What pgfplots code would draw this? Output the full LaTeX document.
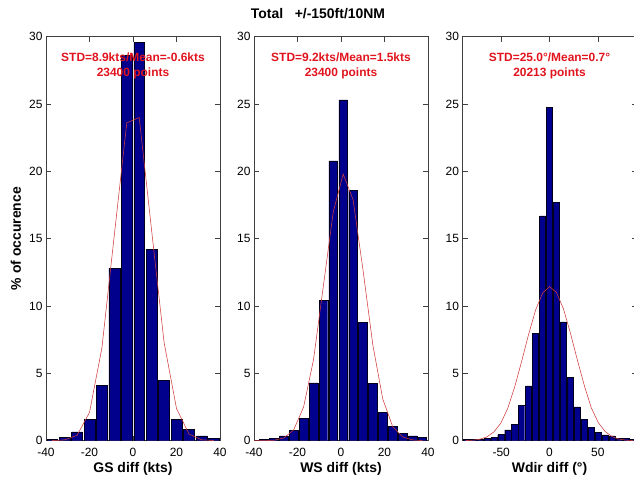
\documentclass[border=0pt]{standalone}
\usepackage{fontspec}
\setmainfont{Liberation Sans}
\usepackage{pgfplots}
\pgfplotsset{compat=1.18}

\definecolor{barblue}{RGB}{0,0,140}
\definecolor{fitred}{RGB}{210,60,60}
\definecolor{txtred}{RGB}{225,20,30}

\pgfplotsset{
  histpanel/.style={
    scale only axis, width=174bp, height=404bp,
    ymin=0, ymax=30, ytick={0,5,...,30},
    tick align=inside, major tick length=5bp,
    axis line style={black!75, line width=0.5bp},
    tick style={black!75, line width=0.5bp},
    ticklabel style={font=\fontsize{12}{12}\selectfont},
    xticklabel style={yshift=-4bp},
    /pgf/number format/assume math mode=true,
    xlabel style={font=\fontsize{14}{14}\selectfont\bfseries,
      at={(axis description cs:0.5,0)}, anchor=center, yshift=-28bp},
  },
  hbar/.style={ybar, bar width=#1, fill=barblue, draw=black!80!barblue, line width=0.4bp},
  fit/.style={fitred, line width=0.55bp, mark=none},
}
\tikzset{note/.style={font=\fontsize{12}{12}\selectfont\bfseries, text=txtred}}

\begin{document}
\begin{tikzpicture}

% ---- ground speed difference ----
\begin{axis}[histpanel, at={(46bp,40.3bp)}, anchor=south west,
  xmin=-40, xmax=40, xtick={-40,-20,0,20,40}, xlabel={GS diff (kts)}]
\addplot[hbar=5.0] coordinates {
  (-37.14,0.10) (-31.43,0.25) (-25.71,0.65) (-20.00,1.60) (-14.29,4.13)
  (-8.57,12.82) (-2.86,28.60) (2.86,29.60) (8.57,14.20) (14.29,4.48)
  (20.00,1.60) (25.71,0.85) (31.43,0.35) (37.14,0.15)};
\addplot[fit] coordinates {
  (-37.14,0.01) (-31.43,0.06) (-25.71,0.40) (-20.00,2.10) (-14.29,6.90)
  (-8.57,15.30) (-2.86,23.60) (2.86,24.00) (8.57,15.60) (14.29,7.30)
  (20.00,2.40) (25.71,0.50) (31.43,0.07) (37.14,0.01)};
\node[note] at (axis description cs:0.5,0.950) {STD=8.9kts/Mean=-0.6kts};
\node[note] at (axis description cs:0.5,0.910) {23400 points};
\end{axis}

% ---- wind speed difference ----
\begin{axis}[histpanel, at={(254bp,40.3bp)}, anchor=south west,
  xmin=-40, xmax=40, xtick={-40,-20,0,20,40}, xlabel={WS diff (kts)}]
\addplot[hbar=4.0] coordinates {
  (-39.95,0.05) (-35.40,0.10) (-30.85,0.20) (-26.30,0.35) (-21.75,0.75)
  (-17.20,1.65) (-12.65,4.30) (-8.10,10.40) (-3.55,20.77) (1.00,25.30)
  (5.55,18.60) (10.10,8.80) (14.65,4.26) (19.20,2.10) (23.75,1.05)
  (28.30,0.55) (32.85,0.35) (37.40,0.25)};
\addplot[fit] coordinates {
  (-39.95,0.00) (-35.40,0.00) (-30.85,0.03) (-26.30,0.20) (-21.75,0.80)
  (-17.20,2.50) (-12.65,6.00) (-8.10,11.50) (-3.55,17.00) (1.00,19.80)
  (5.55,17.90) (10.10,12.70) (14.65,7.10) (19.20,3.10) (23.75,1.05)
  (28.30,0.28) (32.85,0.06) (37.40,0.01)};
\node[note] at (axis description cs:0.5,0.950) {STD=9.2kts/Mean=1.5kts};
\node[note] at (axis description cs:0.5,0.910) {23400 points};
\end{axis}

% ---- wind direction difference ----
\begin{axis}[histpanel, at={(462.5bp,40.3bp)}, anchor=south west,
  xmin=-90, xmax=90, xtick={-50,0,50}, xlabel={Wdir diff (°)}]
\addplot[hbar=6.3] coordinates {
  (-86.4,0.08) (-79.2,0.10) (-72.0,0.12) (-64.8,0.20) (-57.6,0.25)
  (-50.4,0.45) (-43.2,0.80) (-36.0,1.24) (-28.8,2.65) (-21.6,4.08)
  (-14.4,7.97) (-7.2,16.70) (0.0,24.75) (7.2,17.70) (14.4,8.83)
  (21.6,4.70) (28.8,2.52) (36.0,1.59) (43.2,1.00) (50.4,0.62)
  (57.6,0.43) (64.8,0.35) (72.0,0.20) (79.2,0.15) (86.4,0.10)};
\addplot[fit] coordinates {
  (-86.4,0.01) (-79.2,0.04) (-72.0,0.11) (-64.8,0.28) (-57.6,0.65)
  (-50.4,1.30) (-43.2,2.40) (-36.0,4.00) (-28.8,5.90) (-21.6,7.90)
  (-14.4,9.70) (-7.2,10.95) (0.0,11.45) (7.2,11.00) (14.4,9.80)
  (21.6,8.00) (28.8,6.00) (36.0,4.10) (43.2,2.45) (50.4,1.35)
  (57.6,0.68) (64.8,0.30) (72.0,0.12) (79.2,0.04) (86.4,0.01)};
\node[note] at (axis description cs:0.5,0.950) {STD=25.0°/Mean=0.7°};
\node[note] at (axis description cs:0.5,0.910) {20213 points};
\end{axis}

\node[font=\fontsize{14}{14}\selectfont\bfseries] at (318bp,467bp)
  {Total\ \ \ +/-150ft/10NM};
\node[rotate=90, font=\fontsize{14}{14}\selectfont\bfseries] at (16bp,242.3bp)
  {\% of occurence};

\pgfresetboundingbox
\path[use as bounding box] (0,0) rectangle (634bp,481bp);
\end{tikzpicture}
\end{document}
